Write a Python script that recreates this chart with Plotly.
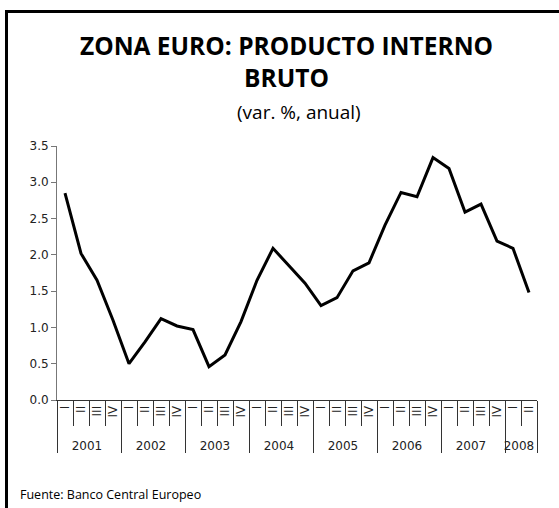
import plotly.graph_objects as go

years = ["2001"] * 4 + ["2002"] * 4 + ["2003"] * 4 + ["2004"] * 4 + ["2005"] * 4 + ["2006"] * 4 + ["2007"] * 4 + ["2008"] * 2
quarters = ["I", "II", "III", "IV"] * 7 + ["I", "II"]
gdp = [2.85, 2.02, 1.65, 1.10, 0.50, 0.80, 1.12, 1.02, 0.97, 0.46, 0.62, 1.08,
       1.65, 2.09, 1.85, 1.61, 1.30, 1.41, 1.78, 1.89, 2.41, 2.86, 2.80, 3.34,
       3.19, 2.59, 2.70, 2.19, 2.09, 1.48]

W, H = 559, 508
L, R, T, B = 57, 22, 146, 108
pw, ph = W - L - R, H - T - B

def px(x):
    return (x - L) / pw

def py(y):
    return (H - B - y) / ph

# pad quarter labels (rotated) so the year row sits lower
pad = "\u00a0\u00a0"
quarter_labels = [pad + q for q in quarters]

fig = go.Figure()
fig.add_trace(go.Scatter(x=[years, quarter_labels], y=gdp, mode="lines",
                         line=dict(color="black", width=3), hoverinfo="y"))

fig.update_layout(
    width=W, height=H, margin=dict(l=L, r=R, t=T, b=B),
    paper_bgcolor="white", plot_bgcolor="white", showlegend=False,
    font=dict(family="DejaVu Sans", size=12, color="#222"),
    xaxis=dict(type="multicategory", range=[-0.5, len(gdp) - 0.5], automargin=False,
               showline=True, linecolor="#333", linewidth=1,
               ticks="outside", tickson="boundaries", ticklen=25, tickcolor="#333",
               tickangle=-90, showgrid=False, showdividers=True,
               dividercolor="#333", dividerwidth=1,
               tickfont=dict(family="DejaVu Sans", size=12, color="#222")),
    yaxis=dict(range=[0, 3.5], dtick=0.5, tickformat=".1f", showline=True, automargin=False,
               linecolor="#777", linewidth=1, ticks="outside", ticklen=5,
               tickcolor="#777", showgrid=False, zeroline=False,
               tickfont=dict(family="DejaVu Sans", size=12, color="#222")),
)

fig.add_annotation(text="<b>ZONA EURO: PRODUCTO INTERNO<br>BRUTO</b>",
                   x=px(286), y=py(62), xref="paper", yref="paper",
                   showarrow=False, font=dict(family="Open Sans", size=24.5, color="black"),
                   align="center", yanchor="middle")
fig.add_annotation(text="(var. %, anual)", x=px(299), y=py(112), xref="paper", yref="paper",
                   showarrow=False, font=dict(family="Open Sans", size=19, color="black"),
                   yanchor="middle")
fig.add_annotation(text="Fuente: Banco Central Europeo", x=px(18), y=py(494),
                   xref="paper", yref="paper", showarrow=False, xanchor="left",
                   yanchor="middle", font=dict(family="Open Sans", size=12.5, color="black"))

fig.add_shape(type="line", xref="paper", yref="paper", x0=px(6.5), x1=px(6.5),
              y0=py(10), y1=py(H + 5), line=dict(color="black", width=3))
fig.add_shape(type="line", xref="paper", yref="paper", x0=px(5), x1=px(W + 5),
              y0=py(11.5), y1=py(11.5), line=dict(color="black", width=3))

fig.write_html("out.html", config={"displayModeBar": False},
               post_script="document.body.style.margin='0';document.body.style.overflow='hidden';")
